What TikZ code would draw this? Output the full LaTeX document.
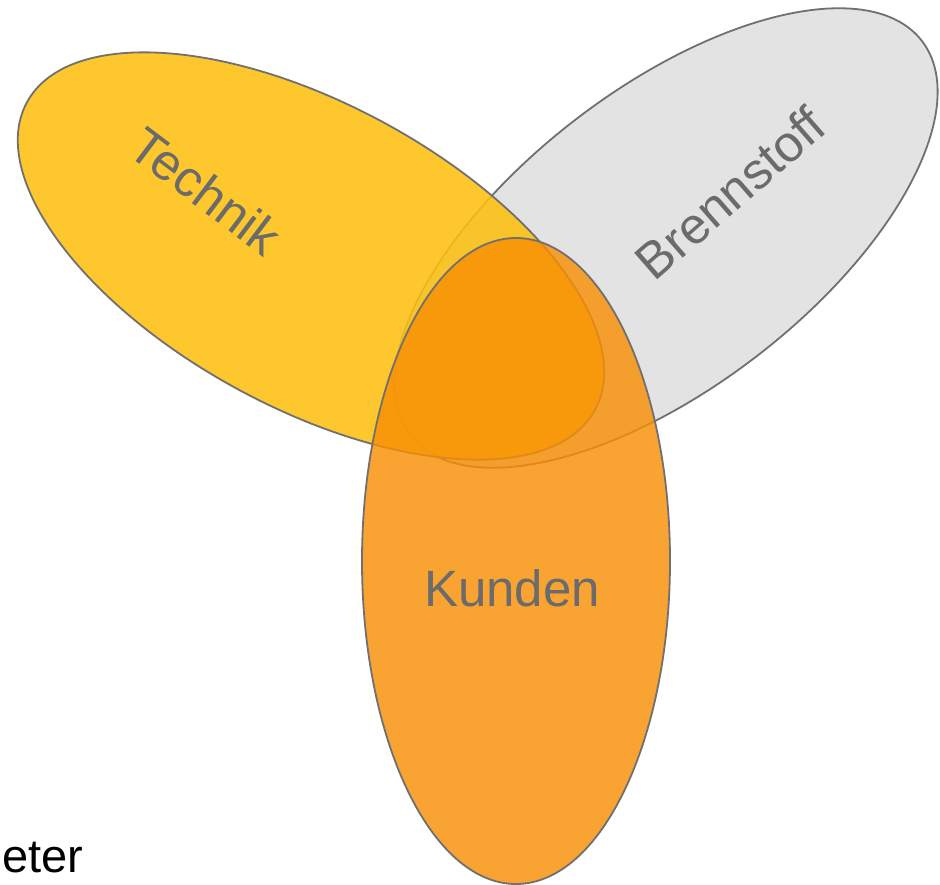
\documentclass[tikz,border=0pt]{standalone}
\usepackage{fontspec}
\setmainfont{Liberation Sans}
\definecolor{ringline}{RGB}{112,112,112}
\definecolor{labelgrey}{RGB}{107,107,107}
\definecolor{fuelgrey}{RGB}{227,227,227}
\definecolor{techyellow}{RGB}{253,192,17}
\definecolor{custorange}{RGB}{248,143,5}
\begin{document}
\begin{tikzpicture}[x=1pt,y=1pt,
  ring/.style={draw=ringline, line width=1.8pt},
  setlabel/.style={text=labelgrey, font=\fontsize{51}{60}\selectfont, inner sep=0pt}]
\useasboundingbox (0,0) rectangle (940,-884);
\fill[white] (0,0) rectangle (940,-884);

% Brennstoff (bottom layer)
\draw[ring, fill=fuelgrey, rotate around={37.6:(666,-238)}]
  (666,-238) ellipse [x radius=323, y radius=149];

% Technik, slightly see-through
\draw[ring, fill=techyellow, fill opacity=0.88, rotate around={-28.4:(311,-256)}]
  (311,-256) ellipse [x radius=323, y radius=152];

% Kunden, on top
\draw[ring, fill=custorange, fill opacity=0.82]
  (516,-561) ellipse [x radius=154, y radius=323];

% set labels
\node[setlabel, rotate=-37] (technik) at (206,-191) {Technik};
\node[setlabel, rotate=41] (brennstoff) at (730,-193) {Brennstoff};
\node[setlabel] (kunden) at (512,-588) {Kunden};

% cut-off caption at the lower left
\node[anchor=base west, inner sep=0pt, font=\fontsize{47}{56}\selectfont] (caption) at (2,-872) {eter};
\end{tikzpicture}
\end{document}
